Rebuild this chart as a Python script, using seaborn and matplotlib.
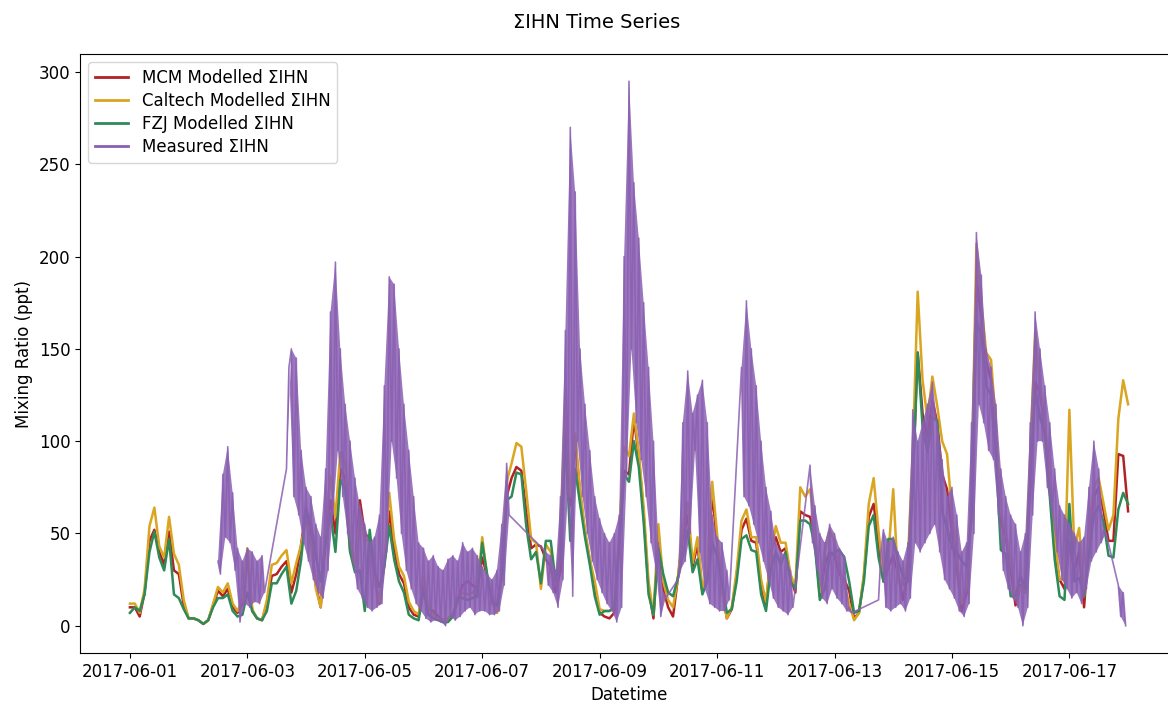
import numpy as np
import pandas as pd
import matplotlib
matplotlib.use("Agg")
import matplotlib.pyplot as plt
import matplotlib.dates as mdates
import seaborn as sns

start = "2017-06-01 00:00"
step = "2h"

# Modelled ΣIHN (ppt), every 2 hours from 2017-06-01 00:00, one row per day
mcm = [
    10, 10, 5, 18, 46, 52, 40, 33, 51, 30, 28, 11,
    4, 4, 3, 1, 3, 11, 19, 16, 20, 10, 7, 12,
    40, 8, 4, 3, 12, 27, 28, 32, 35, 18, 28, 44,
    64, 48, 22, 10, 48, 68, 50, 85, 80, 41, 32, 68,
    50, 47, 25, 12, 34, 62, 42, 28, 23, 10, 6, 5,
    24, 9, 8, 5, 3, 4, 6, 14, 22, 24, 22, 20,
    37, 27, 13, 7, 27, 70, 80, 86, 84, 62, 42, 44,
    43, 36, 32, 18, 30, 113, 65, 100, 72, 50, 35, 20,
    7, 5, 4, 7, 46, 84, 82, 112, 92, 60, 20, 4,
    45, 20, 10, 5, 26, 48, 60, 32, 44, 18, 26, 72,
    45, 20, 4, 9, 27, 52, 58, 46, 45, 22, 11, 40,
    48, 40, 42, 26, 18, 62, 60, 59, 47, 16, 33, 40,
    38, 28, 25, 19, 4, 7, 26, 59, 66, 45, 24, 32,
    38, 28, 14, 28, 80, 148, 115, 102, 122, 110, 82, 74,
    50, 32, 8, 18, 70, 189, 167, 143, 133, 100, 56, 48,
    30, 11, 22, 18, 85, 132, 126, 108, 75, 40, 25, 20,
    45, 30, 40, 10, 45, 70, 75, 62, 46, 46, 93, 92, 62,
]
caltech = [
    12, 12, 7, 20, 54, 64, 43, 37, 59, 39, 33, 14,
    4, 4, 3, 1, 3, 12, 21, 18, 23, 12, 8, 14,
    42, 9, 4, 3, 14, 33, 34, 38, 41, 23, 34, 44,
    58, 45, 20, 10, 55, 81, 59, 94, 88, 47, 32, 60,
    45, 49, 25, 13, 35, 72, 47, 32, 27, 13, 8, 6,
    27, 10, 6, 4, 3, 4, 6, 13, 18, 17, 18, 20,
    48, 27, 13, 7, 27, 78, 88, 99, 97, 73, 47, 45,
    20, 44, 40, 22, 48, 124, 70, 104, 74, 52, 36, 24,
    9, 8, 8, 10, 51, 97, 92, 115, 94, 64, 24, 6,
    55, 24, 14, 10, 26, 54, 67, 34, 48, 20, 30, 78,
    50, 19, 4, 10, 30, 57, 63, 48, 48, 25, 13, 38,
    54, 45, 45, 28, 21, 75, 70, 74, 52, 18, 40, 52,
    45, 31, 22, 12, 3, 7, 28, 66, 80, 51, 28, 38,
    74, 24, 22, 36, 94, 181, 133, 112, 135, 119, 100, 93,
    62, 37, 12, 21, 75, 207, 175, 148, 144, 108, 61, 50,
    36, 15, 21, 18, 94, 159, 130, 110, 83, 47, 25, 25,
    117, 42, 53, 16, 51, 75, 80, 66, 52, 60, 112, 133, 120,
]
fzj = [
    7, 10, 8, 17, 40, 51, 37, 30, 47, 17, 15, 9,
    4, 4, 3, 1, 3, 10, 15, 15, 17, 8, 5, 6,
    18, 8, 4, 3, 8, 23, 23, 28, 32, 12, 19, 36,
    63, 55, 38, 24, 45, 61, 40, 79, 74, 40, 29, 30,
    8, 52, 29, 21, 32, 54, 36, 24, 18, 6, 4, 3,
    19, 6, 4, 3, 2, 2, 5, 15, 15, 14, 15, 16,
    45, 28, 13, 11, 28, 68, 70, 83, 82, 54, 36, 40,
    23, 46, 46, 24, 37, 101, 46, 85, 66, 48, 33, 16,
    6, 8, 8, 10, 44, 82, 78, 100, 86, 56, 17, 6,
    42, 28, 18, 16, 26, 38, 52, 29, 36, 17, 24, 45,
    38, 24, 7, 9, 24, 47, 49, 41, 40, 17, 8, 31,
    40, 33, 40, 24, 20, 57, 57, 55, 43, 14, 20, 38,
    40, 41, 37, 24, 7, 8, 24, 54, 60, 37, 24, 47,
    47, 35, 27, 24, 76, 148, 108, 94, 113, 111, 62, 53,
    42, 40, 35, 32, 58, 165, 157, 130, 125, 92, 41, 39,
    16, 16, 27, 20, 76, 128, 113, 104, 70, 36, 16, 14,
    66, 24, 26, 16, 38, 60, 65, 56, 38, 37, 63, 72, 66,
]

# Measured ΣIHN: periods with data (2-hour blocks), reading at the even hour and at the odd hour
meas_segments = [
    ("2017-06-02 12:00", "2017-06-03 06:00"),
    ("2017-06-03 16:00", "2017-06-07 10:00"),
    ("2017-06-08 02:00", "2017-06-10 02:00"),
    ("2017-06-10 08:00", "2017-06-11 04:00"),
    ("2017-06-11 10:00", "2017-06-12 06:00"),
    ("2017-06-12 14:00", "2017-06-13 06:00"),
    ("2017-06-13 18:00", "2017-06-17 14:00"),
    ("2017-06-17 20:00", "2017-06-17 22:00"),
]
meas_even = [
    35, 82, 97, 72, 42, 35, 42, 40, 35, 38,
    85, 150, 145, 95,
    75, 70, 55, 48, 85, 170, 197, 150, 120, 100, 80, 65,
    55, 45, 48, 60, 130, 189, 185, 150, 120, 95, 70, 45,
    42, 35, 38, 32, 30, 36, 38, 35, 45, 40, 42, 38,
    32, 28, 25, 30, 55, 88,
    40, 38, 30, 70, 160, 270, 235, 150, 120, 95, 70,
    58, 50, 45, 50, 60, 200, 295, 240, 210, 175, 140, 100,
    45, 18,
    25, 110, 138, 115, 125, 133, 110, 60, 48, 45, 30,
    140, 176, 150, 130, 100, 75, 62, 45, 40, 38, 30,
    87, 65, 50, 45, 55, 50, 42, 38, 10,
    14, 52, 45,
    48, 40, 35, 45, 117, 100, 110, 120, 132, 110, 90, 70,
    75, 60, 40, 45, 110, 213, 190, 150, 140, 120, 85, 70,
    60, 55, 40, 50, 110, 170, 150, 130, 110, 85, 65, 60,
    55, 50, 45, 48, 75, 100, 85, 52,
    22, 18,
]
meas_odd = [
    28, 48, 45, 30, 2, 12, 10, 13, 12, 18,
    140, 70, 60, 45,
    35, 25, 18, 15, 30, 60, 95, 70, 50, 35, 20, 15,
    10, 8, 10, 12, 40, 100, 80, 50, 30, 20, 12, 8,
    4, 2, 3, 2, 0, 5, 3, 5, 8, 10, 6, 8,
    8, 6, 6, 8, 22, 60,
    22, 18, 10, 25, 70, 16, 100, 70, 50, 35, 25,
    18, 12, 8, 2, 10, 80, 150, 110, 90, 70, 45, 30,
    5, 15,
    30, 35, 50, 95, 40, 20, 12, 10, 8, 8, 14,
    70, 65, 55, 45, 35, 25, 15, 10, 8, 6, 10,
    45, 30, 15, 12, 20, 15, 12, 8, 7,
    40, 10, 8,
    10, 12, 8, 15, 45, 40, 45, 50, 55, 40, 25, 20,
    15, 8, 5, 12, 50, 120, 110, 95, 90, 60, 30, 20,
    15, 10, 0, 10, 60, 100, 100, 75, 60, 40, 25, 20,
    15, 18, 12, 20, 35, 40, 45, 50,
    5, 0,
]

y_ticks = [0, 50, 100, 150, 200, 250, 300]

PURPLE = "#8a5fb2"

# ---- tables ----
model_time = pd.date_range(start, periods=len(mcm), freq=step)
models = pd.DataFrame({"Datetime": model_time, "MCM": mcm,
                       "Caltech": caltech, "FZJ": fzj})

seg_times = [pd.date_range(a, b, freq=step) for a, b in meas_segments]
blocks = pd.DatetimeIndex(np.concatenate([s.values for s in seg_times]))
meas = pd.concat([
    pd.DataFrame({"Datetime": blocks, "value": meas_even}),
    pd.DataFrame({"Datetime": blocks + pd.Timedelta("1h"), "value": meas_odd}),
]).sort_values("Datetime").reset_index(drop=True)

# ---- figure ----
fig = plt.figure(figsize=(11.68, 7.02), dpi=100)
ax = fig.add_axes([80 / 1168, 49 / 702, 1098 / 1168, 599 / 702])

sns.lineplot(data=models, x="Datetime", y="MCM", color="#b22222", linewidth=1.8,
             label="MCM Modelled ΣIHN", ax=ax)
sns.lineplot(data=models, x="Datetime", y="Caltech", color="#daa520", linewidth=1.8,
             label="Caltech Modelled ΣIHN", ax=ax)
sns.lineplot(data=models, x="Datetime", y="FZJ", color="#2e8b57", linewidth=1.8,
             label="FZJ Modelled ΣIHN", ax=ax)

# dense band of the fast measurement, one polygon per data period
i0 = 0
for s in seg_times:
    n = len(s)
    ev = np.array(meas_even[i0:i0 + n], dtype=float)
    od = np.array(meas_odd[i0:i0 + n], dtype=float)
    xe = mdates.date2num(s)
    xo = mdates.date2num(s + pd.Timedelta("1h"))
    if n > 1:
        ax.fill(np.concatenate([xe, xo[::-1]]), np.concatenate([ev, od[::-1]]),
                color=PURPLE, alpha=0.85, linewidth=0, zorder=3)
    i0 += n

sns.lineplot(data=meas, x="Datetime", y="value", color=PURPLE, linewidth=1.2,
             alpha=0.85, label="Measured ΣIHN", ax=ax, estimator=None, sort=False)

ax.set_yticks(y_ticks)
ax.xaxis.set_major_locator(mdates.DayLocator(bymonthday=range(1, 32, 2)))
ax.xaxis.set_major_formatter(mdates.DateFormatter("%Y-%m-%d"))
ax.tick_params(labelsize=12)
ax.set_xlabel("Datetime", fontsize=12)
ax.set_ylabel("Mixing Ratio (ppt)", fontsize=12)
leg = ax.legend(loc="upper left", fontsize=12, labelspacing=0.3)
for h in leg.get_lines():
    h.set_linewidth(2)
    h.set_alpha(1)

fig.text(597 / 1168, 1 - 22 / 702, "ΣIHN Time Series", ha="center", va="center",
         fontsize=14)

fig.savefig("out.png", dpi=100)
